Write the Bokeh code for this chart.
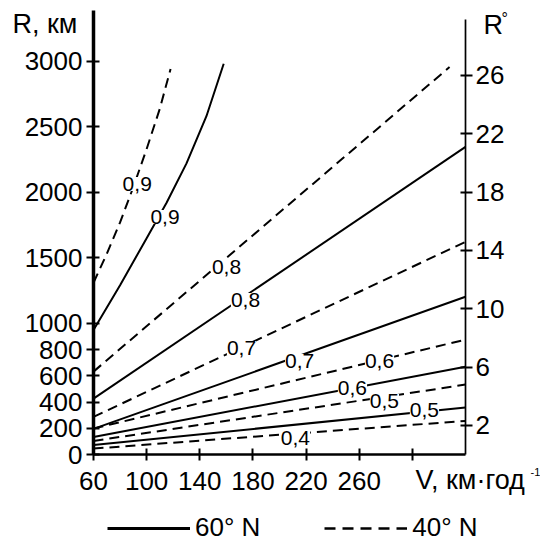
from bokeh.plotting import figure
from bokeh.models import Range1d, LinearAxis, FixedTicker, Label, Legend, LegendItem
from bokeh.embed import file_html
from bokeh.resources import INLINE

FONT = "Liberation Sans"
KM_PER_DEG = 111.2

# axis ticks
v_ticks = [60, 100, 140, 180, 220, 260, 300]
r_ticks = [0, 200, 400, 600, 800, 1000, 1500, 2000, 2500, 3000]
deg_ticks = [2, 6, 10, 14, 18, 22, 26]

# isolines for 60° N (solid): speed V (km/h) -> radius R (km)
s09_v = [60, 80, 100, 115, 130, 145, 158]
s09_r = [950, 1290, 1650, 1920, 2220, 2580, 2980]
s08_v = [60, 340]
s08_r = [426, 2346]
s07_v = [60, 340]
s07_r = [195, 1203]
s06_v = [60, 340]
s06_r = [133, 670]
s05_v = [60, 340]
s05_r = [72, 358]

# isolines for 40° N (dashed)
d09_v = [60, 70, 80, 90, 100, 110, 118]
d09_r = [1310, 1530, 1770, 2040, 2330, 2640, 2940]
d08_v = [60, 328]
d08_r = [632, 2955]
d07_v = [60, 340]
d07_r = [287, 1622]
d06_v = [60, 340]
d06_r = [198, 876]
d05_v = [60, 340]
d05_r = [103, 533]
d04_v = [60, 340]
d04_r = [45, 256]

solid_lines = [(s09_v, s09_r), (s08_v, s08_r), (s07_v, s07_r), (s06_v, s06_r), (s05_v, s05_r)]
dashed_lines = [(d09_v, d09_r), (d08_v, d08_r), (d07_v, d07_r), (d06_v, d06_r),
                (d05_v, d05_r), (d04_v, d04_r)]

# isoline value labels and where they sit (V, R)
iso_text = ["0,9", "0,9", "0,8", "0,8", "0,7", "0,7", "0,6", "0,6", "0,5", "0,5", "0,4"]
iso_pos = [(92.9, 2063), (113.8, 1811), (160.1, 1430), (174.4, 1178), (171.4, 812),
           (215.1, 713), (275.3, 713), (254.9, 507), (279.0, 408), (309.1, 339), (212.0, 126)]

# layout of the plotting area inside the 540x544 canvas (pixels)
W, H = 540, 544
LEFT, RIGHT, TOP, BOTTOM = 93, 465, 10, 454
V_MIN, V_MAX = 60, 340
R_TOP = 3386                       # radius at the top end of the R axis
R_SPINE_RIGHT = 3320               # top end of the degree axis line

xs = (RIGHT - LEFT) / (V_MAX - V_MIN)
ys = (BOTTOM - TOP) / R_TOP
x_range = Range1d(V_MIN - LEFT / xs, V_MAX + (W - RIGHT) / xs)
y_range = Range1d(-(H - BOTTOM) / ys, BOTTOM / ys)

p = figure(width=W, height=H, output_backend="svg", toolbar_location=None,
           x_range=x_range, y_range=y_range,
           x_axis_location=None, y_axis_location=None,
           min_border=0)
p.outline_line_color = None
p.background_fill_color = "white"
p.border_fill_color = "white"
p.xgrid.visible = False
p.ygrid.visible = False

def style_axis(ax, line_width, tick_in, tick_out, standoff):
    ax.axis_line_color = "black"
    ax.axis_line_width = line_width
    ax.major_tick_line_color = "black"
    ax.major_tick_line_width = 2
    ax.major_tick_in = tick_in
    ax.major_tick_out = tick_out
    ax.minor_tick_line_color = None
    ax.major_label_text_font = FONT
    ax.major_label_text_font_size = "26px"
    ax.major_label_text_color = "black"
    ax.major_label_standoff = standoff

xaxis = LinearAxis(ticker=FixedTicker(ticks=v_ticks), major_label_overrides={300: ""},
                   fixed_location=0, bounds=(V_MIN, V_MAX))
style_axis(xaxis, 2.5, 6, 6, 11)
p.add_layout(xaxis, "below")

yaxis = LinearAxis(ticker=FixedTicker(ticks=r_ticks), fixed_location=V_MIN, bounds=(0, R_TOP))
style_axis(yaxis, 3.5, 6, 7, 4)
p.add_layout(yaxis, "left")

p.extra_y_ranges = {"deg": Range1d(y_range.start / KM_PER_DEG, y_range.end / KM_PER_DEG)}
raxis = LinearAxis(y_range_name="deg", ticker=FixedTicker(ticks=deg_ticks),
                   fixed_location=V_MAX, bounds=(0, R_SPINE_RIGHT / KM_PER_DEG))
style_axis(raxis, 1.7, 5, 7, 3)
p.add_layout(raxis, "right")

for v, r in solid_lines:
    p.line(v, r, line_color="black", line_width=2)
for v, r in dashed_lines:
    p.line(v, r, line_color="black", line_width=2, line_dash="10 6")

for t, (v, r) in zip(iso_text, iso_pos):
    p.add_layout(Label(x=v, y=r, text=t, text_align="center", text_baseline="middle",
                       text_font=FONT, text_font_size="21px", text_color="black",
                       background_fill_color="white"))

# axis titles (screen pixels from the top-left corner, alphabetic baseline)
BASE_SHIFT = 9
def title(x, y, text, size="27px", baseline="alphabetic", shift=BASE_SHIFT):
    p.add_layout(Label(x=x, y=H - y + shift, x_units="screen", y_units="screen", text=text,
                       text_font=FONT, text_font_size=size, text_color="black",
                       text_align="left", text_baseline=baseline))

title(12, 32, "R, км")
title(483, 33.3, "R")
title(501, 9.3, "°", size="16px", baseline="top", shift=0)
title(415, 488.3, "V, км·год")
title(530, 475, "-1", size="11px", shift=4)

# legend samples: single-point lines carry the line styles only
leg_solid = p.line([V_MIN], [0], line_color="black", line_width=3)
leg_dash = p.line([V_MIN], [0], line_color="black", line_width=2.5, line_dash="11 7")
legend = Legend(items=[LegendItem(label="60° N", renderers=[leg_solid]),
                       LegendItem(label="40° N", renderers=[leg_dash])],
                location=(107, 1), orientation="horizontal",
                glyph_width=83, glyph_height=20, label_standoff=5, spacing=64,
                padding=0, margin=0, border_line_color=None, background_fill_alpha=0,
                label_text_font=FONT, label_text_font_size="26px", label_text_color="black")
p.add_layout(legend, "center")

open("out.html", "w").write(file_html(p, INLINE))
